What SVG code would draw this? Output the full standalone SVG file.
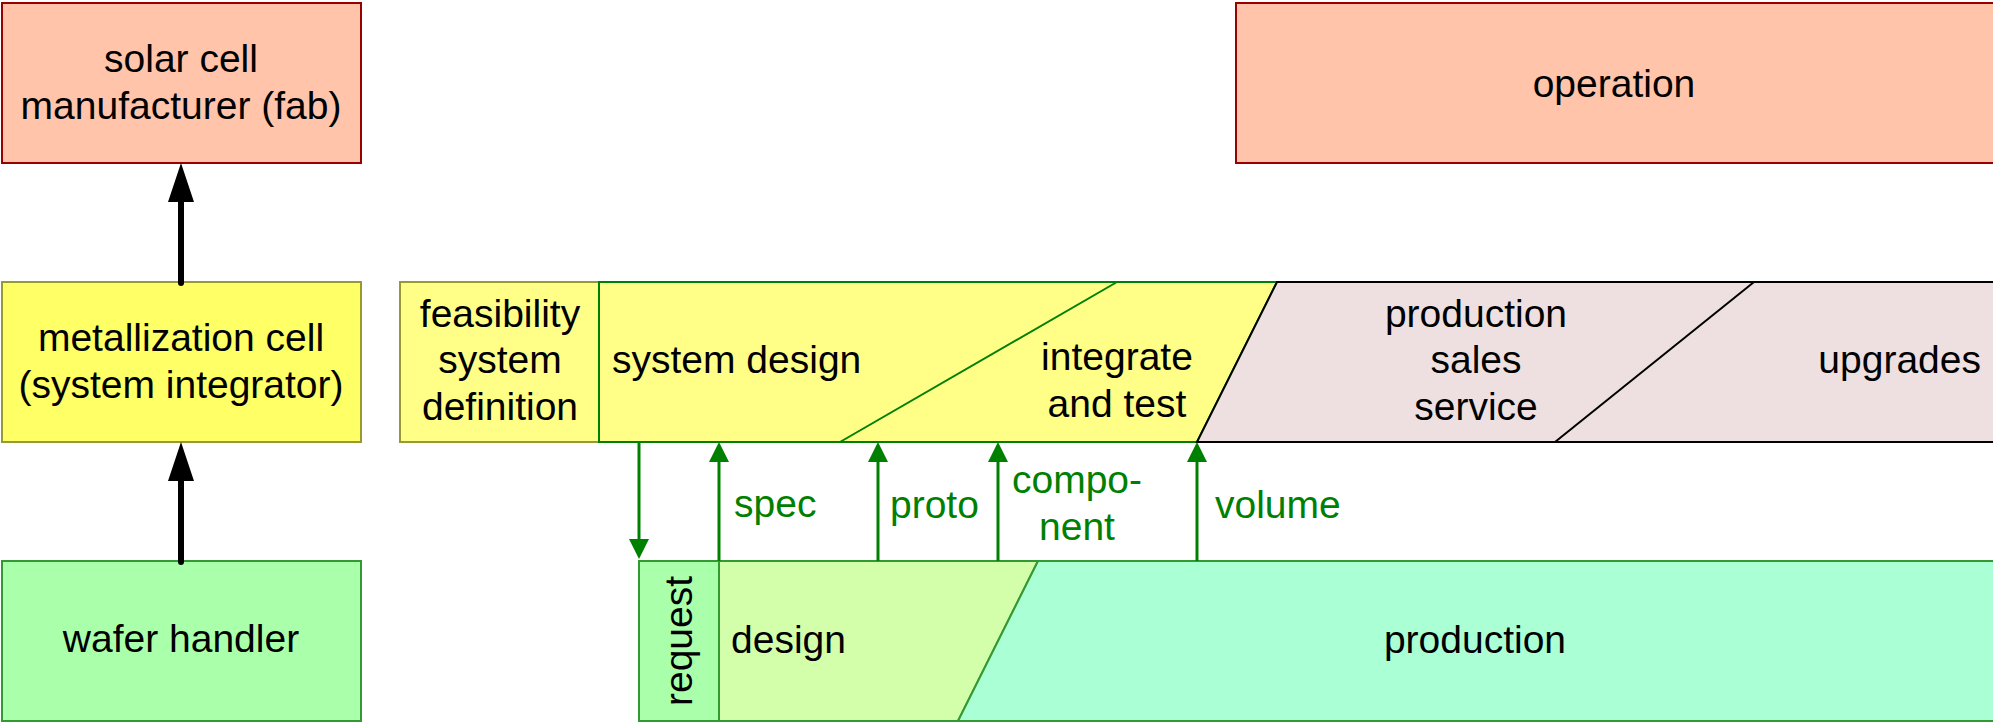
<svg xmlns="http://www.w3.org/2000/svg" width="1993" height="722" viewBox="0 0 1993 722">
<style>
text{font-family:"Liberation Sans",Arial,sans-serif;font-size:39px;fill:#000}
.c{text-anchor:middle}
.g{fill:#008000}
.red{fill:#ffc4aa;stroke:#990000;stroke-width:2}
.yel{fill:#ffff66;stroke:#999933;stroke-width:2}
.pyel{fill:#ffff88;stroke:#999933;stroke-width:2}
.grn{stroke:#339933;stroke-width:2}
.blk{stroke:#000;stroke-width:6;fill:none;stroke-linecap:round}
.garr{stroke:#008000;stroke-width:3;fill:none}
</style>
<defs>
<marker id="ab" markerUnits="userSpaceOnUse" viewBox="0 0 39 26" refX="0" refY="13" markerWidth="39" markerHeight="26" orient="auto"><path d="M0,0 L39,13 L0,26 Z" fill="#000"/></marker>
<marker id="ag" markerUnits="userSpaceOnUse" viewBox="0 0 20 20" refX="0" refY="10" markerWidth="20" markerHeight="20" orient="auto"><path d="M0,0 L20,10 L0,20 Z" fill="#008000"/></marker>
</defs>
<rect width="1993" height="722" fill="#fff"/>
<g id="solar"><rect class="red" x="2" y="3" width="359" height="160"/><text class="c" x="181" y="72">solar cell</text><text class="c" x="181" y="119">manufacturer (fab)</text></g>
<g id="operation"><rect class="red" x="1236" y="3" width="758" height="160"/><text class="c" x="1614" y="97">operation</text></g>
<g id="metallization"><rect class="yel" x="2" y="282" width="359" height="160"/><text class="c" x="181" y="351">metallization cell</text><text class="c" x="181" y="398">(system integrator)</text></g>
<g id="feasibility"><rect class="pyel" x="400" y="282" width="199" height="160"/><text class="c" x="500" y="327">feasibility</text><text class="c" x="500" y="373">system</text><text class="c" x="500" y="420">definition</text></g>
<g id="systemdesign"><path d="M599,282 L1277,282 L1197,442 L599,442 Z" fill="#ffff88" stroke="#008000" stroke-width="2"/><path d="M840,442 L1117,282" stroke="#008000" stroke-width="2" fill="none"/><text x="612" y="373">system design</text><text class="c" x="1117" y="370">integrate</text><text class="c" x="1117" y="417">and test</text></g>
<g id="productionsales"><path d="M1277,282 L1994,282 L1994,442 L1197,442 Z" fill="#eee0e0" stroke="#000" stroke-width="2"/><path d="M1555,442 L1754,282" stroke="#000" stroke-width="2" fill="none"/><text class="c" x="1476" y="327">production</text><text class="c" x="1476" y="373">sales</text><text class="c" x="1476" y="420">service</text><text x="1981" y="373" text-anchor="end">upgrades</text></g>
<g id="wafer"><rect x="2" y="561" width="359" height="160" fill="#aaffaa" class="grn"/><text class="c" x="181" y="652">wafer handler</text></g>
<g id="request"><rect x="639" y="561" width="80" height="160" fill="#aaffaa" class="grn"/><text class="c" transform="translate(692,641) rotate(-90)" x="0" y="0">request</text></g>
<g id="design"><path d="M719,561 L1038,561 L958,721 L719,721 Z" fill="#d4ffaa" class="grn"/><text x="731" y="653">design</text></g>
<g id="production"><path d="M1038,561 L1994,561 L1994,721 L958,721 Z" fill="#aaffd4" class="grn"/><text class="c" x="1475" y="653">production</text></g>
<g id="connectors">
<line class="blk" x1="181" y1="283" x2="181" y2="202" marker-end="url(#ab)"/>
<line class="blk" x1="181" y1="562" x2="181" y2="481" marker-end="url(#ab)"/>
<line class="garr" x1="639" y1="442" x2="639" y2="539" marker-end="url(#ag)"/>
<line class="garr" x1="719" y1="561" x2="719" y2="462" marker-end="url(#ag)"/>
<line class="garr" x1="878" y1="561" x2="878" y2="462" marker-end="url(#ag)"/>
<line class="garr" x1="998" y1="561" x2="998" y2="462" marker-end="url(#ag)"/>
<line class="garr" x1="1197" y1="561" x2="1197" y2="462" marker-end="url(#ag)"/>
<text class="g" x="734" y="517">spec</text>
<text class="g" x="890" y="518">proto</text>
<text class="g c" x="1077" y="493">compo-</text>
<text class="g c" x="1077" y="540">nent</text>
<text class="g" x="1215" y="518">volume</text>
</g>
</svg>
